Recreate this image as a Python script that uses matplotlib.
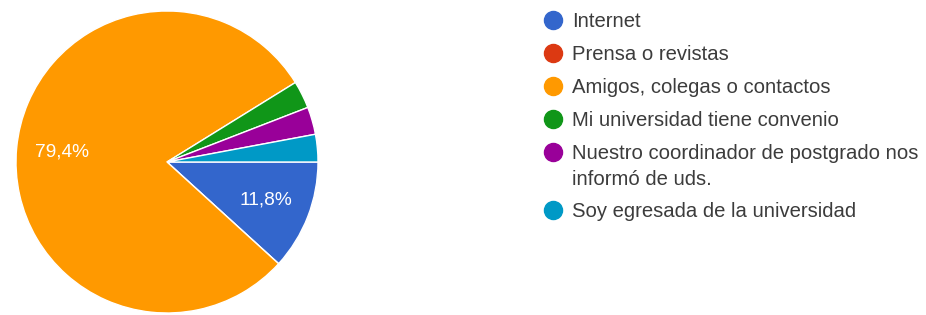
import matplotlib
matplotlib.use("Agg")
import matplotlib.pyplot as plt
from matplotlib.lines import Line2D

categories = [
    "Internet",
    "Prensa o revistas",
    "Amigos, colegas o contactos",
    "Mi universidad tiene convenio",
    "Nuestro coordinador de postgrado nos\ninformó de uds.",
    "Soy egresada de la universidad",
]
counts = [4, 0, 27, 1, 1, 1]
colors = ["#3366cc", "#dc3912", "#ff9900", "#109618", "#990099", "#0099c6"]

W, H = 926, 315
fig = plt.figure(figsize=(W / 100, H / 100), dpi=100)
fig.patch.set_facecolor("white")

cx, cy, r = 167, 153, 151
ax = fig.add_axes([(cx - r) / W, (cy - r) / H, 2 * r / W, 2 * r / H])


def fmt(p):
    if p < 5:
        return ""
    return f"{p:.1f}%".replace(".", ",")


wedges, texts, autotexts = ax.pie(
    counts, colors=colors, startangle=0, counterclock=False, radius=1,
    autopct=fmt, pctdistance=0.7,
    wedgeprops=dict(edgecolor="white", linewidth=1),
    textprops=dict(color="white", fontsize=13.8, family="Liberation Sans"),
)
ax.set_xlim(-1, 1)
ax.set_ylim(-1, 1)
ax.set_aspect("equal")
ax.axis("off")

# legend
mx, tx = 553, 572
y = 20
for lab, col in zip(categories, colors):
    fy = (H - y) / H
    fig.add_artist(Line2D([mx / W], [fy], marker="o", markersize=13,
                          color=col, markeredgecolor=col, linestyle="none",
                          transform=fig.transFigure))
    fig.text(tx / W, fy + 8 / H, lab, ha="left", va="top", fontsize=14.6,
             family="Liberation Sans", color="#3c3c3c", linespacing=1.5,
             transform=fig.transFigure)
    nlines = lab.count("\n")
    y += 33 + 25 * nlines

fig.savefig("out.png", dpi=100, facecolor="white")
